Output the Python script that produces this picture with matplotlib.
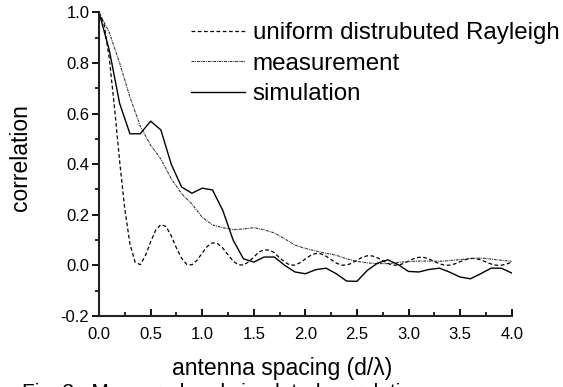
import matplotlib
matplotlib.use("Agg")
import matplotlib.pyplot as plt
from matplotlib.ticker import MultipleLocator, FormatStrFormatter

plt.rcParams['font.family'] = ['Liberation Sans', 'DejaVu Sans']

# antenna spacing grid for the theoretical curve (d/lambda)
x_theory = [i * 0.05 for i in range(81)]
uniform_rayleigh = [
    1.0, 0.9516, 0.8168, 0.6243, 0.4119, 0.2228, 0.0845, 0.0123, 0.0030, 0.0385,
    0.0925, 0.1397, 0.1614, 0.1535, 0.1172, 0.0692, 0.0285, 0.0038, 0.0021, 0.0202,
    0.0485, 0.0753, 0.0891, 0.0863, 0.0681, 0.0424, 0.0173, 0.0022, 0.0015, 0.0138,
    0.0324, 0.0530, 0.0614, 0.0605, 0.0502, 0.0296, 0.0132, 0.0014, 0.0012, 0.0106,
    0.0256, 0.0392, 0.0471, 0.0460, 0.0366, 0.0225, 0.0091, 0.0011, 0.0010, 0.0085,
    0.0203, 0.0315, 0.0380, 0.0373, 0.0298, 0.0184, 0.0075, 0.0009, 0.0009, 0.0071,
    0.0169, 0.0264, 0.0319, 0.0314, 0.0251, 0.0156, 0.0063, 0.0007, 0.0007, 0.0061,
    0.0145, 0.0226, 0.0275, 0.0271, 0.0217, 0.0135, 0.0055, 0.0006, 0.0006, 0.0053,
    0.0127,
]

x_data = [i * 0.1 for i in range(41)]
measurement = [
    1.0, 0.92, 0.80, 0.665, 0.55, 0.475, 0.42, 0.343, 0.283, 0.243,
    0.19, 0.16, 0.149, 0.141, 0.144, 0.149, 0.141, 0.128, 0.105, 0.08,
    0.067, 0.057, 0.048, 0.04, 0.026, 0.016, 0.010, 0.007, 0.007, 0.012,
    0.015, 0.017, 0.017, 0.016, 0.019, 0.023, 0.027, 0.029, 0.025, 0.020,
    0.016,
]
simulation = [
    1.0, 0.85, 0.64, 0.52, 0.52, 0.57, 0.535, 0.40, 0.31, 0.285,
    0.305, 0.298, 0.217, 0.10, 0.026, 0.013, 0.033, 0.033, 0.0, -0.026,
    -0.033, -0.017, -0.011, -0.033, -0.062, -0.063, -0.02, 0.009, 0.022, 0.003,
    -0.024, -0.026, -0.016, -0.011, -0.027, -0.046, -0.053, -0.033, -0.011, -0.011,
    -0.03,
]

labels = ["uniform distrubuted Rayleigh", "measurement", "simulation"]

W, H = 563, 387
fig = plt.figure(figsize=(W/100, H/100), dpi=100)
ax = fig.add_axes([99/W, 1-316/H, (511.7-99)/W, (316-12.3)/H])

ax.plot(x_theory, uniform_rayleigh, color='black', lw=0.9, dashes=(3, 2), label=labels[0])
ax.plot(x_data, measurement, color='#333333', lw=0.8, dashes=(2.5, 0.8, 0.8, 0.8), label=labels[1])
ax.plot(x_data, simulation, color='black', lw=1.0, label=labels[2])

ax.set_xlim(0, 4.0)
ax.set_ylim(-0.2, 1.0)
ax.xaxis.set_major_locator(MultipleLocator(0.5))
ax.xaxis.set_minor_locator(MultipleLocator(0.25))
ax.yaxis.set_major_locator(MultipleLocator(0.2))
ax.yaxis.set_minor_locator(MultipleLocator(0.1))
ax.xaxis.set_major_formatter(FormatStrFormatter('%.1f'))
ax.yaxis.set_major_formatter(FormatStrFormatter('%.1f'))

for s in ['top', 'right']:
    ax.spines[s].set_visible(False)
for s in ['left', 'bottom']:
    ax.spines[s].set_linewidth(1.5)
    ax.spines[s].set_color('#222222')

ax.tick_params(axis='y', which='major', direction='out', length=5, width=1.3, labelsize=12, pad=2)
ax.tick_params(axis='y', which='minor', direction='out', length=3, width=1.2)
ax.tick_params(axis='x', which='major', direction='in', length=5, width=1.3, labelsize=12, pad=8)
ax.tick_params(axis='x', which='minor', direction='in', length=3, width=1.2)

ax.set_xlabel("antenna spacing (d/\u03bb)", fontsize=16.5)
ax.xaxis.set_label_coords((282-99)/412.7, -(369-316)/303.7)
ax.xaxis.label.set_va('center')
ax.set_ylabel("correlation", fontsize=16.5)
ax.yaxis.set_label_coords(-(99-21)/412.7, (316-157.5)/303.7)
ax.yaxis.label.set_va('center')

leg = ax.legend(loc='upper left', bbox_to_anchor=((191-99)/412.7, (316-22)/303.7),
                frameon=False, fontsize=17.4, handlelength=2.23, handletextpad=0.33,
                labelspacing=0.36, borderaxespad=0, borderpad=0)

fig.text(22/W, 1-383/H, "Fig. 3   Measured and simulated correlation",
         fontsize=15, va='top', ha='left')

fig.savefig("out.png", dpi=100)
